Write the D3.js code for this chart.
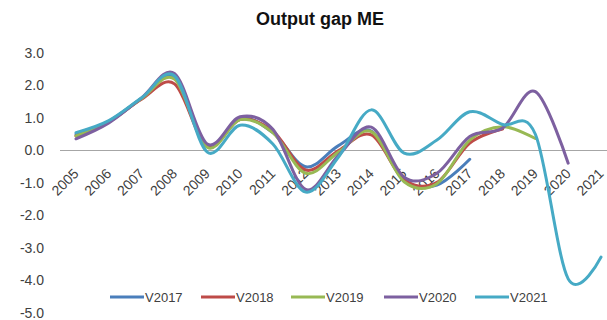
<!DOCTYPE html>
<html>
<head>
<meta charset="utf-8">
<script src="https://cdn.jsdelivr.net/npm/d3@7"></script>
<style>
  html, body { margin: 0; padding: 0; background: #fff; }
  svg { display: block; }
  text { font-family: "Liberation Sans", Arial, sans-serif; fill: #404040; }
</style>
</head>
<body>
<svg id="chart" width="607" height="320"></svg>
<script>
// Categories (years) and the five vintages of the output gap estimate
const years = ["2005","2006","2007","2008","2009","2010","2011","2012","2013","2014","2015","2016","2017","2018","2019","2020","2021"];
const seriesNames = ["V2017", "V2018", "V2019", "V2020", "V2021"];
const v2017 = [0.50, 0.90, 1.60, 2.25, 0.15, 1.00, 0.55, -0.50, 0.15, 0.60, -0.90, -1.06, -0.27];
const v2018 = [0.45, 0.88, 1.58, 2.05, 0.12, 0.95, 0.60, -0.60, 0.00, 0.48, -0.90, -0.98, 0.23, 0.66];
const v2019 = [0.45, 0.88, 1.60, 2.20, 0.10, 0.95, 0.55, -0.70, -0.05, 0.58, -0.96, -1.02, 0.32, 0.73, 0.37];
const v2020 = [0.36, 0.85, 1.62, 2.37, 0.20, 1.04, 0.65, -1.20, -0.15, 0.72, -0.82, -0.70, 0.43, 0.69, 1.81, -0.39];
const v2021 = [0.55, 0.92, 1.62, 2.30, -0.05, 0.78, 0.20, -1.28, -0.20, 1.25, -0.08, 0.32, 1.19, 0.80, 0.50, -3.95, -3.28];
const colors = ["#4a7ebb", "#be4b48", "#98b954", "#7d60a0", "#46aac5"];
const yTicks = [3, 2, 1, 0, -1, -2, -3, -4, -5];

const series = [v2017, v2018, v2019, v2020, v2021].map((vals, i) => ({
  name: seriesNames[i],
  color: colors[i],
  points: vals.map((v, j) => ({ year: years[j], value: v }))
}));

const svg = d3.select("#chart");

const x = d3.scalePoint().domain(years).range([76, 601]);
const y = d3.scaleLinear().domain([-5, 3]).range([313, 53]);

// Title
svg.append("text")
  .attr("x", 320).attr("y", 25)
  .attr("text-anchor", "middle")
  .style("font-size", "18px").style("font-weight", "bold")
  .style("fill", "#111")
  .text("Output gap ME");

// Y axis labels (no axis line)
const yAxis = d3.axisLeft(y).tickValues(yTicks).tickSize(0).tickPadding(0)
  .tickFormat(d => d.toFixed(1));
const gy = svg.append("g").attr("transform", "translate(44,0)").call(yAxis);
gy.select(".domain").remove();
gy.selectAll("text").style("font-size", "14px").style("fill", "#404040")
  .attr("font-family", null);

// Category axis sitting on the zero line
const xAxis = d3.axisBottom(x).tickSize(0).tickPadding(0);
const gx = svg.append("g").attr("transform", `translate(0,${y(0)})`).call(xAxis);
gx.select(".domain").remove();
svg.append("line")
  .attr("x1", 60).attr("x2", 607)
  .attr("y1", y(0)).attr("y2", y(0))
  .attr("stroke", "#a6a6a6").attr("stroke-width", 1);
gx.selectAll("text")
  .attr("font-family", null)
  .style("font-size", "14px").style("fill", "#404040")
  .attr("text-anchor", "end")
  .attr("dy", null).attr("y", 0).attr("x", 0)
  .attr("transform", "translate(3,24) rotate(-45)");

// Smoothed lines
const line = d3.line()
  .x(d => x(d.year))
  .y(d => y(d.value))
  .curve(d3.curveCardinal.tension(0));

svg.append("g").selectAll("path")
  .data(series)
  .join("path")
  .attr("d", d => line(d.points))
  .attr("fill", "none")
  .attr("stroke", d => d.color)
  .attr("stroke-width", 3)
  .attr("stroke-linecap", "round")
  .attr("stroke-linejoin", "round");

// Legend
const legendX = [110, 201, 291, 384, 475];
const lg = svg.append("g").selectAll("g")
  .data(series)
  .join("g")
  .attr("transform", (d, i) => `translate(${legendX[i]},297)`);
lg.append("line")
  .attr("x1", 0).attr("x2", 34)
  .attr("stroke", d => d.color).attr("stroke-width", 3);
lg.append("text")
  .attr("x", 35).attr("y", 5)
  .style("font-size", "13px")
  .text(d => d.name);
</script>
</body>
</html>
